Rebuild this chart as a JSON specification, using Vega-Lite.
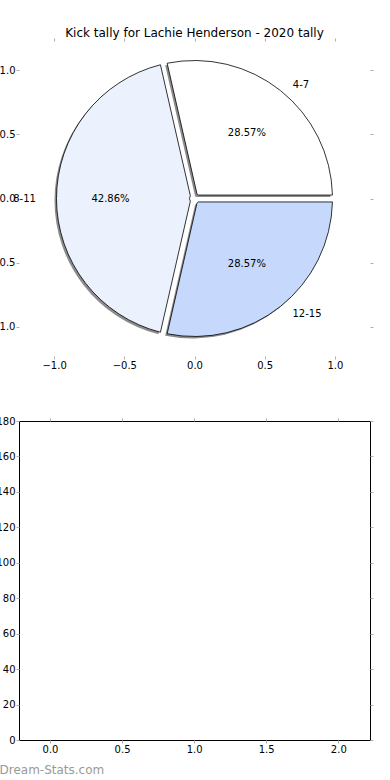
{
  "$schema": "https://vega.github.io/schema/vega-lite/v6.json",
  "padding": {"left": -10, "top": 26, "right": 0, "bottom": 0},
  "config": {
    "font": "DejaVu Sans",
    "view": {"stroke": null},
    "axis": {"grid": false, "labelFont": "DejaVu Sans", "labelFontSize": 10, "labelColor": "#000", "tickColor": "#b0b0b0", "tickSize": 3, "labelPadding": 1, "domain": false, "title": null},
    "title": {"font": "DejaVu Sans", "fontSize": 12, "fontWeight": "normal", "color": "#000"}
  },
  "spacing": 45,
  "vconcat": [
    {
      "width": 351,
      "height": 315,
      "title": {"text": "Kick tally for Lachie Henderson - 2020 tally", "offset": -2},
      "layer": [
        {
          "data": {"values": [
            {"group": "4-7", "kicks": 2, "pct": "28.57%", "i": 1},
            {"group": "8-11", "kicks": 3, "pct": "42.86%", "i": 2},
            {"group": "12-15", "kicks": 2, "pct": "28.57%", "i": 3}
          ]},
          "encoding": {
            "theta": {"field": "kicks", "type": "quantitative", "stack": true, "scale": {"range": [1.5708, -4.7124]}},
            "order": {"field": "i", "type": "quantitative"}
          },
          "layer": [
            {"mark": {"type": "arc", "outerRadius": 138, "innerRadius": 5, "padAngle": 0.05, "fill": "#000", "opacity": 0.45, "xOffset": -2, "yOffset": 2}},
            {"mark": {"type": "arc", "outerRadius": 138, "innerRadius": 5, "padAngle": 0.05, "stroke": "#000", "strokeWidth": 0.8},
             "encoding": {"fill": {"field": "group", "type": "nominal", "scale": {"domain": ["4-7", "8-11", "12-15"], "range": ["#ffffff", "#ebf1fd", "#c6d9fd"]}, "legend": null}}},
            {"mark": {"type": "text", "radius": 84, "fontSize": 10, "font": "DejaVu Sans", "color": "#000"}, "encoding": {"text": {"field": "pct"}}},
            {"mark": {"type": "text", "radius": 150, "dx": 13, "dy": 4, "fontSize": 10, "font": "DejaVu Sans", "color": "#000"},
             "encoding": {"text": {"condition": {"test": "datum.group === '4-7'", "field": "group"}, "value": ""}}},
            {"mark": {"type": "text", "radius": 150, "dx": 19, "dy": -2, "fontSize": 10, "font": "DejaVu Sans", "color": "#000"},
             "encoding": {"text": {"condition": {"test": "datum.group === '12-15'", "field": "group"}, "value": ""}}},
            {"mark": {"type": "text", "radius": 170, "fontSize": 10, "font": "DejaVu Sans", "color": "#000"},
             "encoding": {"text": {"condition": {"test": "datum.group === '8-11'", "field": "group"}, "value": ""}}}
          ]
        },
        {
          "data": {"values": [{"px": 0, "py": 0}]},
          "mark": {"type": "point", "opacity": 0},
          "encoding": {
            "x": {"field": "px", "type": "quantitative", "scale": {"domain": [-1.25, 1.25], "nice": false, "zero": false}, "axis": {"values": [-1, -0.5, 0, 0.5, 1], "format": ".1f"}},
            "y": {"field": "py", "type": "quantitative", "scale": {"domain": [-1.23, 1.23], "nice": false, "zero": false}, "axis": {"values": [-1, -0.5, 0, 0.5, 1], "format": ".1f"}}
          }
        },
        {
          "data": {"values": [{"px": 0, "py": 0}]},
          "mark": {"type": "point", "opacity": 0},
          "encoding": {
            "x": {"field": "px", "type": "quantitative", "axis": {"orient": "top", "labels": false, "values": [-1, -0.5, 0, 0.5, 1]}},
            "y": {"field": "py", "type": "quantitative", "axis": {"orient": "right", "labels": false, "values": [-1, -0.5, 0, 0.5, 1]}}
          }
        }
      ],
      "resolve": {"axis": {"x": "independent", "y": "independent"}}
    },
    {
      "width": 351,
      "height": 319,
      "view": {"stroke": "#000", "strokeWidth": 1},
      "data": {"values": [{"x": 0, "kicks": 0}, {"x": 1, "kicks": 0}, {"x": 2, "kicks": 0}]},
      "layer": [
        {
          "mark": {"type": "point", "opacity": 0},
          "encoding": {
            "x": {"field": "x", "type": "quantitative", "scale": {"domain": [-0.215, 2.22], "nice": false, "zero": false},
                  "axis": {"values": [0, 0.5, 1, 1.5, 2], "format": ".1f", "title": "Dream-Stats.com", "titleAnchor": "start", "titleAlign": "left", "titleX": -20, "titleY": 24, "titleBaseline": "top", "titleColor": "#999", "titleFontWeight": "normal", "titleFontSize": 12, "titleFont": "DejaVu Sans"}},
            "y": {"field": "kicks", "type": "quantitative", "scale": {"domain": [0, 180], "nice": false}, "axis": {"values": [0, 20, 40, 60, 80, 100, 120, 140, 160, 180]}}
          }
        },
        {
          "mark": {"type": "point", "opacity": 0},
          "encoding": {
            "x": {"field": "x", "type": "quantitative", "axis": {"orient": "top", "labels": false, "values": [0, 0.5, 1, 1.5, 2]}},
            "y": {"field": "kicks", "type": "quantitative", "axis": {"orient": "right", "labels": false, "values": [0, 20, 40, 60, 80, 100, 120, 140, 160, 180]}}
          }
        }
      ],
      "resolve": {"axis": {"x": "independent", "y": "independent"}}
    }
  ]
}
